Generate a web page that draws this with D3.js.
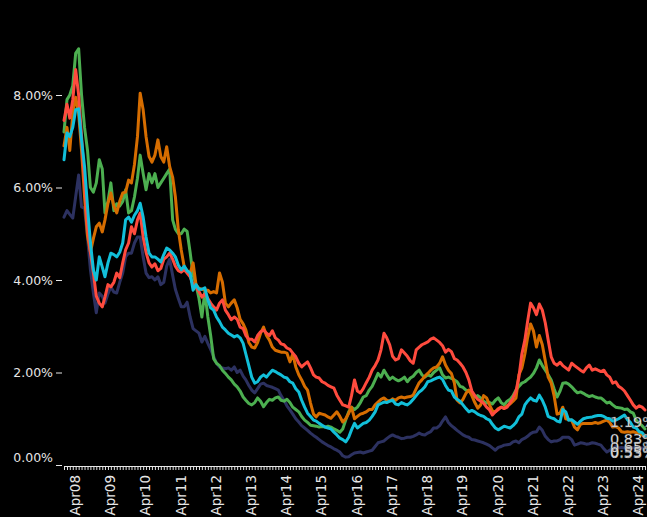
<!DOCTYPE html>
<html>
<head>
<meta charset="utf-8">
<script src="https://cdn.jsdelivr.net/npm/d3@7"></script>
<style>
  html, body { margin: 0; padding: 0; background: #000; overflow: hidden; }
  svg { display: block; background: #000; }
</style>
</head>
<body>
<svg id="chart" width="647" height="517"></svg>
<script>
// ---- data (monthly, Jan 2008 onward, percent) ----
const startYear = 2008;
const startMonth = 0;
const yTicks = [0, 2, 4, 6, 8];
const seriesNames = ["navy", "green", "orange", "red", "cyan"];
const seriesColors = ["#2c3160", "#4caf50", "#d66d00", "#ff4b3e", "#12bfd9"];
const endLabels = ["0.53%", "0.83%", "0.65%", "1.19%", "0.55%"];
const endLabelValues = [0.53, 0.83, 0.65, 1.19, 0.55];

const red = [7.45,7.8,7.5,7.9,8.55,8.0,7.1,6.1,5.15,4.6,
4.15,3.65,3.5,3.42,3.63,3.9,3.85,3.95,4.15,4.05,
4.37,4.65,4.8,5.15,5.0,5.3,5.45,4.93,4.6,4.37,
4.28,4.35,4.2,4.25,4.45,4.5,4.58,4.45,4.3,4.2,
4.17,4.22,4.15,4.07,3.9,3.85,3.75,3.63,3.7,3.6,
3.5,3.42,3.35,3.5,3.57,3.35,3.25,3.14,3.2,3.15,
2.98,2.95,2.8,2.72,2.72,2.66,2.8,2.88,2.92,2.85,
2.8,2.9,2.75,2.7,2.62,2.6,2.53,2.5,2.42,2.34,
2.2,2.12,2.18,2.23,2.1,1.95,1.9,1.88,1.8,1.77,
1.72,1.69,1.66,1.51,1.4,1.3,1.28,1.25,1.5,1.84,
1.6,1.56,1.65,1.78,1.9,2.05,2.15,2.27,2.49,2.85,
2.75,2.6,2.35,2.27,2.3,2.49,2.42,2.35,2.25,2.2,
2.49,2.55,2.6,2.63,2.66,2.72,2.75,2.7,2.65,2.58,
2.44,2.5,2.45,2.3,2.27,2.2,2.12,2.0,1.84,1.6,
1.5,1.42,1.38,1.34,1.25,1.19,1.08,1.15,1.2,1.25,
1.22,1.25,1.35,1.45,1.6,1.9,2.4,2.7,3.1,3.5,
3.4,3.25,3.48,3.35,3.07,2.7,2.34,2.2,2.16,2.22,
2.15,2.1,2.05,2.2,2.15,2.1,2.05,2.01,2.1,2.16,
2.05,2.08,2.05,2.02,2.05,1.95,1.9,1.77,1.8,1.7,
1.66,1.6,1.5,1.4,1.3,1.23,1.28,1.25,1.19];

const green = [7.2,7.9,8.0,8.2,8.9,9.0,8.0,7.3,6.8,6.0,
5.9,6.1,6.6,6.4,5.45,5.7,6.1,5.5,5.65,5.6,
5.7,5.95,5.45,5.5,5.8,6.2,6.7,6.3,5.95,6.3,
6.1,6.3,6.0,6.1,6.2,6.3,6.4,5.3,5.1,5.0,
5.0,5.1,5.05,4.6,4.1,3.9,3.6,3.2,3.75,3.2,
2.8,2.3,2.2,2.15,2.05,1.98,1.9,1.84,1.75,1.69,
1.6,1.47,1.4,1.33,1.3,1.35,1.45,1.38,1.26,1.35,
1.42,1.4,1.45,1.47,1.4,1.38,1.42,1.35,1.25,1.2,
1.15,1.05,0.97,0.92,0.86,0.85,0.84,0.82,0.83,0.82,
0.84,0.82,0.78,0.75,0.71,0.78,0.97,1.15,1.25,1.2,
1.25,1.35,1.47,1.5,1.62,1.7,1.84,1.98,1.9,2.05,
1.95,1.85,1.9,1.85,1.82,1.85,1.9,1.8,1.88,1.92,
2.0,2.05,1.95,1.9,1.95,1.92,2.0,2.05,2.1,1.95,
1.88,1.9,1.87,1.84,1.8,1.7,1.68,1.62,1.6,1.55,
1.47,1.5,1.45,1.38,1.34,1.35,1.32,1.4,1.45,1.35,
1.3,1.38,1.42,1.5,1.62,1.7,1.77,1.8,1.85,1.9,
1.98,2.1,2.27,2.15,2.05,1.95,1.84,1.65,1.47,1.6,
1.77,1.78,1.75,1.69,1.62,1.56,1.58,1.55,1.51,1.48,
1.5,1.47,1.45,1.45,1.4,1.34,1.36,1.3,1.25,1.24,
1.23,1.2,1.21,1.15,1.12,0.97,0.9,0.85,0.78];

const orange = [6.9,7.3,6.8,7.6,7.95,7.6,6.8,5.8,4.95,4.6,
4.9,5.15,5.23,5.04,5.3,5.66,5.88,5.6,5.45,5.7,
5.88,5.9,6.16,6.1,6.5,7.1,8.04,7.68,7.1,6.67,
6.55,6.7,7.03,6.67,6.55,6.88,6.45,6.22,5.8,5.08,
4.65,4.28,4.2,4.15,4.37,3.9,3.82,3.8,3.78,3.78,
3.72,3.75,3.72,4.15,3.95,3.5,3.42,3.5,3.57,3.4,
3.15,3.05,2.92,2.65,2.55,2.53,2.65,2.85,2.98,2.8,
2.7,2.55,2.48,2.46,2.44,2.44,2.42,2.23,2.4,2.12,
1.95,1.84,1.7,1.62,1.34,1.1,1.04,1.12,1.1,1.08,
1.04,1.01,1.08,1.15,1.05,0.93,1.0,1.12,1.25,1.0,
1.05,1.1,1.12,1.15,1.2,1.2,1.3,1.36,1.42,1.45,
1.4,1.38,1.43,1.4,1.45,1.47,1.45,1.47,1.48,1.51,
1.65,1.78,1.84,1.92,1.98,2.05,2.1,2.12,2.2,2.34,
2.16,2.05,1.98,1.77,1.4,1.34,1.42,1.55,1.62,1.5,
1.35,1.23,1.3,1.5,1.45,1.3,1.17,1.15,1.22,1.25,
1.23,1.28,1.32,1.38,1.45,1.95,2.1,2.4,2.75,3.05,
2.9,2.55,2.8,2.6,2.25,1.9,1.77,1.5,1.1,1.12,
1.25,1.0,0.98,0.97,0.82,0.76,0.88,0.9,0.9,0.9,
0.9,0.92,0.9,0.92,0.95,0.97,0.92,0.82,0.83,0.8,
0.72,0.71,0.72,0.71,0.72,0.7,0.68,0.65,0.6];

const cyan = [6.6,7.18,7.1,7.3,7.68,7.7,7.03,6.45,5.58,4.8,
4.22,4.0,4.5,4.28,4.07,4.37,4.58,4.55,4.5,4.6,
4.8,5.3,5.36,5.25,5.4,5.5,5.66,5.36,4.93,4.58,
4.5,4.5,4.45,4.39,4.55,4.69,4.65,4.58,4.5,4.32,
4.22,4.3,4.2,4.15,3.78,3.9,3.8,3.8,3.83,3.57,
3.4,3.35,3.2,3.1,2.98,2.92,2.85,2.81,2.77,2.8,
2.75,2.63,2.4,2.15,1.9,1.77,1.8,1.9,1.95,1.9,
1.98,2.05,2.02,1.98,1.95,1.9,1.88,1.8,1.77,1.65,
1.58,1.4,1.25,1.12,1.05,0.97,0.95,0.9,0.86,0.82,
0.8,0.78,0.71,0.65,0.58,0.55,0.5,0.6,0.76,0.9,
0.8,0.85,0.9,0.92,0.97,1.05,1.15,1.3,1.33,1.36,
1.35,1.38,1.4,1.32,1.3,1.35,1.32,1.3,1.35,1.42,
1.5,1.58,1.62,1.69,1.8,1.82,1.85,1.88,1.9,1.85,
1.72,1.62,1.6,1.47,1.42,1.38,1.3,1.22,1.15,1.18,
1.15,1.1,1.07,1.05,1.0,0.97,0.88,0.8,0.76,0.8,
0.84,0.82,0.8,0.85,0.92,1.04,1.1,1.3,1.38,1.45,
1.4,1.38,1.51,1.4,1.25,1.05,1.02,1.0,0.95,0.93,
1.2,1.15,0.97,0.98,0.93,0.88,0.95,1.0,1.02,1.03,
1.04,1.06,1.07,1.07,1.05,1.01,1.0,0.95,0.97,1.0,
1.04,1.08,0.98,0.92,0.82,0.8,0.72,0.7,0.62];

const navy = [5.36,5.5,5.42,5.34,5.8,6.27,5.58,5.55,4.93,4.22,
3.72,3.29,3.72,3.65,3.5,3.7,3.85,3.74,3.72,3.95,
4.15,4.5,4.58,4.58,4.8,4.93,4.93,4.5,4.15,4.05,
4.07,4.0,4.07,3.9,3.95,4.3,4.45,4.1,3.8,3.6,
3.42,3.42,3.52,3.2,2.95,2.9,2.85,2.66,2.78,2.63,
2.5,2.35,2.2,2.12,2.1,2.08,2.1,2.05,2.12,2.0,
2.05,1.92,1.84,1.72,1.62,1.56,1.65,1.75,1.77,1.72,
1.7,1.68,1.65,1.62,1.5,1.4,1.28,1.19,1.1,1.0,
0.93,0.85,0.8,0.75,0.69,0.64,0.6,0.55,0.5,0.46,
0.42,0.39,0.35,0.32,0.28,0.2,0.17,0.18,0.22,0.26,
0.27,0.28,0.26,0.28,0.3,0.32,0.4,0.48,0.5,0.52,
0.57,0.62,0.65,0.62,0.6,0.57,0.58,0.6,0.6,0.62,
0.65,0.69,0.66,0.65,0.69,0.72,0.8,0.8,0.85,0.95,
1.04,0.92,0.85,0.8,0.75,0.7,0.65,0.62,0.6,0.55,
0.54,0.52,0.5,0.48,0.45,0.42,0.37,0.32,0.38,0.4,
0.43,0.44,0.45,0.5,0.52,0.48,0.55,0.58,0.62,0.68,
0.71,0.72,0.82,0.75,0.62,0.55,0.5,0.52,0.52,0.55,
0.6,0.6,0.6,0.55,0.43,0.45,0.48,0.47,0.45,0.46,
0.48,0.47,0.45,0.43,0.35,0.28,0.32,0.35,0.4,0.37,
0.38,0.37,0.37,0.38,0.37,0.38,0.37,0.37,0.37];

const seriesValues = [navy, green, orange, red, cyan];

// ---- chart ----
const svg = d3.select("#chart");
const start = new Date(startYear, startMonth, 1);
const nMonths = d3.max(seriesValues, s => s.length);
const end = d3.timeMonth.offset(start, nMonths - 1);

const x = d3.scaleTime().domain([start, end]).range([64, 645]);
const y = d3.scaleLinear().domain([0, 8]).range([465, 95]);

const font = "DejaVu Sans, Verdana, sans-serif";
const axisColor = "#e6e6e6";

// x axis
const fmt = d3.timeFormat("%b%y");
const xAxis = svg.append("g")
  .attr("transform", "translate(0,466)")
  .call(d3.axisBottom(x)
    .ticks(d3.timeMonth.every(1))
    .tickSize(4)
    .tickSizeOuter(0)
    .tickFormat(d => d.getMonth() === 3 ? fmt(d) : ""));
xAxis.select(".domain").attr("stroke", axisColor);
xAxis.selectAll(".tick line").attr("stroke", axisColor);
xAxis.selectAll(".tick text")
  .attr("fill", axisColor)
  .style("font-family", font)
  .style("font-size", "13.5px")
  .attr("transform", "rotate(-90)")
  .attr("text-anchor", "end")
  .attr("x", -9)
  .attr("y", 0)
  .attr("dy", "0.5em");

// y axis
const yAxis = svg.append("g")
  .attr("transform", "translate(62,0)")
  .call(d3.axisLeft(y)
    .tickValues(yTicks)
    .tickSize(6)
    .tickPadding(3)
    .tickFormat(d => d3.format(".2f")(d) + "%"));
yAxis.select(".domain").remove();
yAxis.selectAll(".tick line").attr("stroke", axisColor);
yAxis.selectAll(".tick text")
  .attr("fill", axisColor)
  .style("font-family", font)
  .style("font-size", "12.5px")
  .attr("dy", d => d === 0 ? "-0.25em" : "0.32em");

// lines
const line = d3.line()
  .x((d, i) => x(d3.timeMonth.offset(start, i)))
  .y(d => y(d));

svg.append("g")
  .selectAll("path")
  .data(seriesValues)
  .join("path")
  .attr("fill", "none")
  .attr("stroke", (d, i) => seriesColors[i])
  .attr("stroke-width", 3)
  .attr("stroke-linejoin", "round")
  .attr("stroke-linecap", "round")
  .attr("d", line);

// end labels
svg.append("g")
  .selectAll("text")
  .data(endLabels)
  .join("text")
  .attr("x", (d, i) => x(d3.timeMonth.offset(start, seriesValues[i].length - 1)) - 35)
  .attr("y", (d, i) => y(endLabelValues[i]) + 12)
  .attr("dy", "0.35em")
  .attr("fill", "#f2f2f2")
  .attr("stroke", "#555")
  .attr("stroke-width", 0.3)
  .style("font-family", font)
  .style("font-size", "14.5px")
  .text(d => d);
</script>
</body>
</html>
